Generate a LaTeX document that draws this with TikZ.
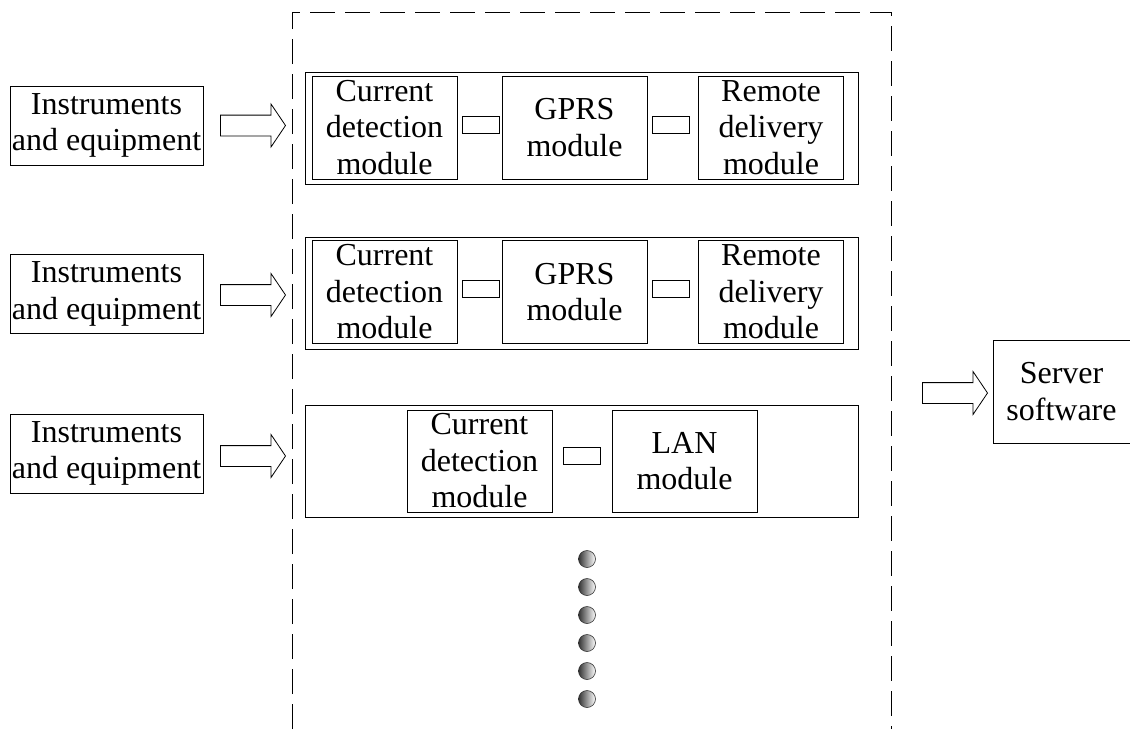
\documentclass[tikz,border=0pt]{standalone}
\usepackage{fontspec}
\setmainfont{Liberation Serif}
\usetikzlibrary{shapes.arrows, positioning}

\begin{document}
\begin{tikzpicture}[
    x=1pt, y=-1pt,
    every node/.style={font=\fontsize{32}{36.5}\selectfont, align=center, inner sep=0pt},
    box/.style={draw, line width=0.8pt},
    modbox/.style={box, minimum width=145pt, minimum height=103pt},
    grpbox/.style={box, minimum width=553pt, minimum height=112pt},
    srcbox/.style={box, minimum width=193pt, minimum height=79pt},
    link/.style={box, minimum width=37pt, minimum height=17pt},
    hollow/.style={single arrow, draw, line width=0.8pt, minimum height=65pt, minimum width=42pt,
      single arrow head extend=11pt, single arrow tip angle=112, inner sep=10pt},
    dot/.style={circle, draw=black!80, line width=0.6pt, minimum size=17pt, left color=black!80, right color=white}
  ]
  \useasboundingbox (0,0) rectangle (1130,729);

  % terminal area
  \draw[line width=1pt, dash pattern=on 25pt off 10pt] (292,729) -- (292,12) -- (891,12) -- (891,729);

  % first GPRS terminal
  \node[srcbox] (inst1) at (106.5,125.5) {Instruments\\and equipment};
  \node[hollow] (arr1) at (249.5,125.5) {};
  \node[grpbox] (grp1) at (581.5,128) {};
  \node[modbox] (cur1) at (384.5,127.5) {Current\\detection\\module};
  \node[modbox] (gprs1) at (574.5,127.5) {GPRS\\module};
  \node[modbox] (rem1) at (771,127.5) {Remote\\delivery\\module};
  \node[link] (lnk1a) at (481,124.5) {};
  \node[link] (lnk1b) at (670.5,124.5) {};

  % second GPRS terminal
  \node[srcbox] (inst2) at (106.5,294) {Instruments\\and equipment};
  \node[hollow] (arr2) at (249.5,295) {};
  \node[grpbox] (grp2) at (581.5,293) {};
  \node[modbox] (cur2) at (384.5,292) {Current\\detection\\module};
  \node[modbox] (gprs2) at (574.5,292) {GPRS\\module};
  \node[modbox] (rem2) at (771,292) {Remote\\delivery\\module};
  \node[link] (lnk2a) at (481,288.5) {};
  \node[link] (lnk2b) at (670.5,288.5) {};

  % LAN terminal
  \node[srcbox] (inst3) at (106.5,453.5) {Instruments\\and equipment};
  \node[hollow] (arr3) at (249.5,456) {};
  \node[grpbox] (grp3) at (581.5,461) {};
  \node[modbox, minimum height=102pt] (cur3) at (479.5,461) {Current\\detection\\module};
  \node[modbox, minimum height=102pt] (lan3) at (684.5,461) {LAN\\module};
  \node[link] (lnk3) at (581.5,456) {};

  % more terminals
  \foreach \i/\y in {1/559, 2/587, 3/615, 4/643, 5/671, 6/699}
    \node[dot] (more\i) at (587,\y) {};

  % server side
  \node[hollow] (arrsrv) at (951.5,393) {};
  \node[box, minimum width=137pt, minimum height=103pt] (srv) at (1061.5,391.5) {Server\\software};
\end{tikzpicture}
\end{document}
